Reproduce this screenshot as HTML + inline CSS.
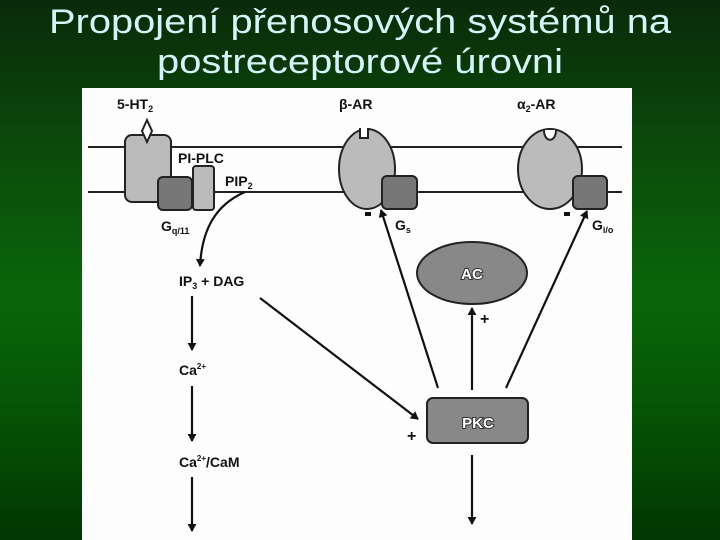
<!DOCTYPE html>
<html><head><meta charset="utf-8"><style>
html,body{margin:0;padding:0;width:720px;height:540px;overflow:hidden}
body{background:linear-gradient(to bottom,#0a2a0a 0%,#0b4d0b 30%,#0a660a 55%,#055505 75%,#023602 100%)}
svg{position:absolute;left:0;top:0}
</style></head><body>
<svg width="720" height="540" viewBox="0 0 720 540" font-family="Liberation Sans, sans-serif">
<defs>
<marker id="ah" markerWidth="8" markerHeight="9" refX="7" refY="4.5" orient="auto" markerUnits="userSpaceOnUse">
<path d="M0,0 L8,4.5 L0,9 Z" fill="#111"/></marker>
</defs>
<text x="360" y="33" fill="#d4f4f6" font-size="34" font-weight="normal" text-anchor="middle" textLength="622" lengthAdjust="spacingAndGlyphs">Propojení přenosových systémů na</text>
<text x="360" y="73" fill="#d4f4f6" font-size="34" font-weight="normal" text-anchor="middle" textLength="406" lengthAdjust="spacingAndGlyphs">postreceptorové úrovni</text>
<rect x="82" y="88" width="550" height="452" fill="#fdfdfd"/>
<g stroke="#222" stroke-width="2" fill="none">
<line x1="88" y1="147" x2="622" y2="147"/>
<line x1="88" y1="192" x2="622" y2="192"/>
</g>
<g stroke="#222" stroke-width="2">
<rect x="125" y="135" width="46" height="67" rx="7" fill="#bbb"/>
<path d="M147,120 L152,131 L147,142 L142,131 Z" fill="#fff"/>
<rect x="158" y="177" width="34" height="33" rx="5" fill="#777"/>
<rect x="193" y="166" width="21" height="44" rx="3" fill="#bbb"/>
<ellipse cx="367" cy="169" rx="28" ry="40" fill="#bbb"/>
<path d="M360,128 L360,138 L368,138 L368,128" fill="#fdfdfd"/>
<rect x="382" y="176" width="35" height="33" rx="5" fill="#777"/>
<ellipse cx="550" cy="169" rx="32" ry="40" fill="#bbb"/>
<path d="M544,130 C544,143 556,143 556,130" fill="#fdfdfd"/>
<rect x="573" y="176" width="34" height="33" rx="5" fill="#777"/>
<ellipse cx="472" cy="273" rx="55" ry="31" fill="#888"/>
<rect x="427" y="398" width="101" height="45" rx="6" fill="#888"/>
</g>
<g stroke="#111" stroke-width="2.2" fill="none" marker-end="url(#ah)">
<path d="M245,192 C215,205 202,230 200,266"/>
<line x1="192" y1="296" x2="192" y2="350"/>
<line x1="192" y1="386" x2="192" y2="441"/>
<line x1="192" y1="477" x2="192" y2="531"/>
<line x1="260" y1="298" x2="418" y2="419"/>
<line x1="472" y1="455" x2="472" y2="524"/>
<line x1="472" y1="390" x2="472" y2="308"/>
<line x1="438" y1="388" x2="381" y2="210"/>
<line x1="506" y1="388" x2="587" y2="211"/>
</g>
<rect x="365" y="212" width="6" height="4" fill="#111"/>
<rect x="564" y="212" width="6" height="4" fill="#111"/>
<g font-weight="bold" font-size="14" fill="#111">
<text x="117" y="109">5-HT<tspan font-size="9" dy="3">2</tspan></text>
<text x="339" y="109">β-AR</text>
<text x="517" y="109">α<tspan font-size="9" dy="3">2</tspan><tspan dy="-3">-AR</tspan></text>
<text x="178" y="163">PI-PLC</text>
<text x="225" y="186">PIP<tspan font-size="9" dy="3">2</tspan></text>
<text x="161" y="231">G<tspan font-size="9" dy="3">q/11</tspan></text>
<text x="395" y="230">G<tspan font-size="9" dy="3">s</tspan></text>
<text x="592" y="230">G<tspan font-size="9" dy="3">i/o</tspan></text>
<text x="179" y="286">IP<tspan font-size="9" dy="3">3</tspan><tspan dy="-3"> + DAG</tspan></text>
<text x="179" y="375">Ca<tspan font-size="8" dy="-6">2+</tspan></text>
<text x="179" y="467">Ca<tspan font-size="8" dy="-6">2+</tspan><tspan dy="6">/CaM</tspan></text>
<text x="407" y="441" font-size="16">+</text>
<text x="480" y="324" font-size="16">+</text>
</g>
<g font-weight="bold" font-size="15" fill="#fff" stroke="#333" stroke-width="2" paint-order="stroke" text-anchor="middle">
<text x="472" y="279">AC</text>
<text x="478" y="428">PKC</text>
</g>
</svg>
</body></html>
